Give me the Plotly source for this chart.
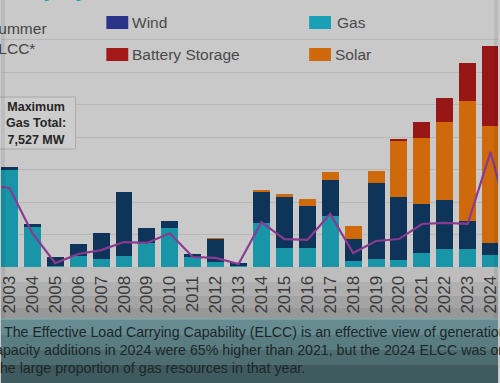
import plotly.graph_objects as go

# ---------------- data ----------------
years = list(range(2003, 2025))
year_labels = [str(y) for y in years]
gas = [7527, 3150, 100, 850, 615, 850, 1850, 3000, 770, 385, 150,
       3380, 1460, 1460, 3920, 460, 615, 540, 1080, 1385, 1385, 920]
wind = [150, 150, 700, 920, 2000, 4920, 1150, 540, 230, 1770, 150,
        2460, 3920, 3230, 2770, 1690, 5850, 4850, 3770, 3770, 2150, 920]
solar = [0, 0, 0, 0, 0, 0, 0, 0, 0, 30, 0,
         80, 230, 540, 615, 1000, 920, 4310, 5080, 6000, 9230, 9000]
battery = [0, 0, 0, 0, 0, 0, 0, 0, 0, 0, 0,
           0, 0, 0, 0, 0, 0, 150, 1230, 1850, 2920, 6150]
elcc_years = list(range(2002, 2026))
elcc = [6300, 6075, 2600, 300, 1000, 1300, 1920, 1850, 2600, 770, 700, 230,
        3460, 2150, 2080, 4080, 1080, 2000, 2150, 3310, 3390, 3310, 8850, 2230]
grid_vals = [0, 2500, 5000, 7500, 10000, 12500, 15000, 17500]

# ---------------- style ----------------
C_GAS = "#1896a7"
C_WIND = "#0e3459"
C_SOLAR = "#cf6a0c"
C_BATT = "#971616"
C_LINE = "#8a3a90"
BG = "#c9c9c9"
W, H = 500, 383
BASE = 267  # pixel row of the baseline


def px(x):
    return x / W


def py(y):
    return (BASE - y) / BASE


fig = go.Figure()
for name, vals, col in [("Gas", gas, C_GAS), ("Wind", wind, C_WIND),
                        ("Solar", solar, C_SOLAR), ("Battery Storage", battery, C_BATT)]:
    fig.add_trace(go.Bar(x=years, y=vals, name=name, marker_color=col,
                         marker_line_width=0))
fig.add_trace(go.Scatter(x=elcc_years, y=elcc, mode="lines", name="Summer ELCC*",
                         line=dict(color=C_LINE, width=2.2)))

shapes = []
annos = []

# bands below the plot area (tick label zone) to mimic darkening
for y0, y1, c in [(267, 282, "#bdbdbd"), (282, 296, "#b0b0b0"), (296, 308, "#a4a4a4"),
                  (308, 319, "#989898")]:
    shapes.append(dict(type="rect", xref="paper", yref="paper", x0=0, x1=1,
                       y0=py(y1), y1=py(y0), fillcolor=c, line_width=0, layer="below"))

# text box at the bottom
for y0, y1, c in [(319, 335, "#668b90"), (335, 350, "#5a7d82"), (350, 365, "#4d6d71"),
                  (365, 384, "#405b5f")]:
    shapes.append(dict(type="rect", xref="paper", yref="paper", x0=0, x1=1,
                       y0=py(y1), y1=py(y0), fillcolor=c, line_width=0, layer="above"))
shapes.append(dict(type="line", xref="paper", yref="paper", x0=0, x1=1,
                   y0=py(319), y1=py(319), line=dict(color="#7fa9ad", width=1.5), layer="above"))

lines = [("The Effective Load Carrying Capability (ELCC) is an effective view of generation", 1, 332),
         ("capacity additions in 2024 were 65% higher than 2021, but the 2024 ELCC was only", -15, 350),
         ("the large proportion of gas resources in that year.", -7, 368)]
for t, x, y in lines:
    annos.append(dict(text=t, xref="paper", yref="paper", x=px(x), y=py(y),
                      xanchor="left", yanchor="middle", showarrow=False,
                      font=dict(family="Liberation Sans, Arial", size=14.2, color="#1c2628")))

# legend (manual)
for x0, y0, col, label, tx in [(106, 16, "#2a3589", "Wind", 130),
                               (106, 48, "#a3191a", "Battery Storage", 130),
                               (310, 16, "#1aa0b4", "Gas", 336),
                               (310, 48, "#cf680b", "Solar", 334)]:
    shapes.append(dict(type="rect", xref="paper", yref="paper", x0=px(x0), x1=px(x0 + 22),
                       y0=py(y0 + 13), y1=py(y0), fillcolor=col, line_width=0))
    annos.append(dict(text=label, xref="paper", yref="paper", x=px(tx), y=py(y0 + 6.5),
                      xanchor="left", yanchor="middle", showarrow=False,
                      font=dict(family="Liberation Sans, Arial", size=15.5, color="#4a4a4a")))

# partially visible legend text for the line
annos.append(dict(text="Summer<br>ELCC*", xref="paper", yref="paper", x=px(-15), y=py(38),
                  xanchor="left", yanchor="middle", align="left", showarrow=False,
                  font=dict(family="Liberation Sans, Arial", size=15.5, color="#444444")))

# title fragment at the very top
annos.append(dict(text="<b>Capacity by Year</b>", xref="paper", yref="paper", x=px(142), y=py(3),
                  xanchor="right", yanchor="bottom", showarrow=False,
                  font=dict(family="Liberation Sans, Arial", size=22, color="#1b9db3")))

# maximum gas box
shapes.append(dict(type="rect", xref="paper", yref="paper", x0=px(-2), x1=px(75),
                   y0=py(149), y1=py(97), fillcolor="#cdcdcd",
                   line=dict(color="#a9a9a9", width=1)))
annos.append(dict(text="<b>Maximum<br>Gas Total:<br>7,527 MW</b>", xref="paper", yref="paper",
                  x=px(35), y=py(123), xanchor="center", yanchor="middle", align="center",
                  showarrow=False,
                  font=dict(family="Liberation Sans, Arial", size=12.5, color="#262626")))

# edge darkening (vignette approximation)
for x0, x1, op in [(0, 4, 0.07), (496, 500, 0.07)]:
    shapes.append(dict(type="rect", xref="paper", yref="paper", x0=px(x0), x1=px(x1),
                       y0=py(319), y1=1, fillcolor="black", opacity=op, line_width=0,
                       layer="above"))

k = 23.05
x0_val = 2003 - 8.5 / k
fig.update_layout(
    width=W, height=H, barmode="stack", bargap=0.26, showlegend=False,
    paper_bgcolor=BG, plot_bgcolor=BG,
    margin=dict(l=0, r=0, t=0, b=H - BASE, pad=0),
    shapes=shapes, annotations=annos,
    xaxis=dict(range=[x0_val, x0_val + W / k], tickvals=years, ticktext=year_labels,
               tickangle=-90, showgrid=False, zeroline=False, showline=False,
               ticks="outside", ticklen=1, tickcolor="rgba(0,0,0,0)",
               ticklabeloverflow="allow",
               tickfont=dict(family="Liberation Sans, Arial", size=17, color="#3a3a3a")),
    yaxis=dict(range=[0, BASE / 32.5 * 2500], tickvals=grid_vals, showticklabels=False,
               gridcolor="#b7b7b7", gridwidth=1, zeroline=False, showline=False),
)

fig.write_html("out.html", config={"displayModeBar": False},
               post_script="document.body.style.margin='0';"
               "document.body.style.overflow='hidden';")
